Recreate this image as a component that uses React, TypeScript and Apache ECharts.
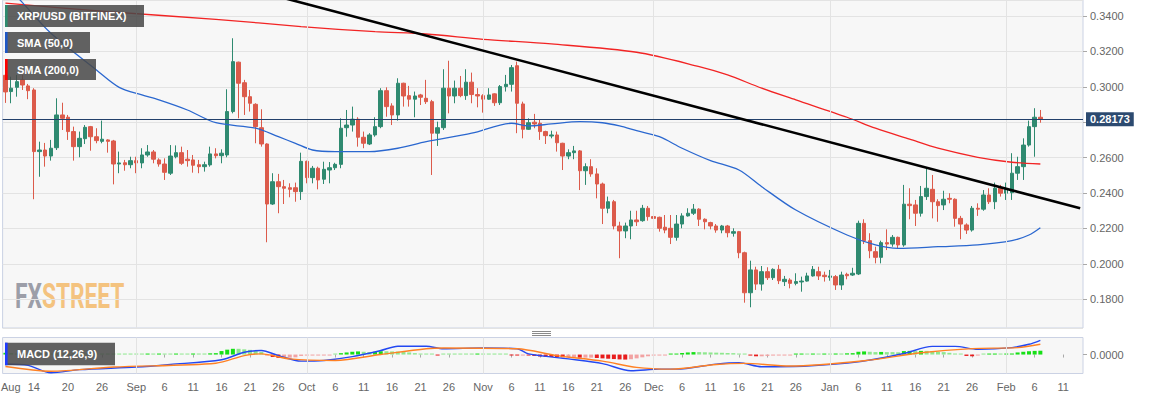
import React, { useEffect, useRef } from 'react';
import * as echarts from 'echarts';

// ---------- categories (one per day) ----------
const START_UTC = Date.UTC(2019, 7, 9);
const CATEGORY_COUNT = 190;
const MONTHS = ['Jan', 'Feb', 'Mar', 'Apr', 'May', 'Jun', 'Jul', 'Aug', 'Sep', 'Oct', 'Nov', 'Dec'];
const dates: string[] = Array.from({ length: CATEGORY_COUNT }, (_, i) =>
  new Date(START_UTC + i * 86400000).toISOString().slice(0, 10)
);

// ---------- x tick labels ----------
const tickDates = [
  '2019-08-14', '2019-08-20', '2019-08-26', '2019-09-01', '2019-09-06', '2019-09-11', '2019-09-16',
  '2019-09-21', '2019-09-26', '2019-10-01', '2019-10-06', '2019-10-11', '2019-10-16', '2019-10-21',
  '2019-10-26', '2019-11-01', '2019-11-06', '2019-11-11', '2019-11-16', '2019-11-21', '2019-11-26',
  '2019-12-01', '2019-12-06', '2019-12-11', '2019-12-16', '2019-12-21', '2019-12-26', '2020-01-01',
  '2020-01-06', '2020-01-11', '2020-01-16', '2020-01-21', '2020-01-26', '2020-02-01', '2020-02-06',
  '2020-02-11',
];
const monthLines = ['2019-09-01', '2019-10-01', '2019-11-01', '2019-12-01', '2020-01-01', '2020-02-01'];

// ---------- XRP/USD daily OHLC (Aug 9 2019 .. Feb 7 2020) ----------
const opens = [
  0.3065, 0.2973, 0.2997, 0.3039, 0.3005, 0.2982, 0.2634, 0.2643, 0.2609, 0.2656,
  0.2841, 0.2828, 0.2747, 0.2662, 0.2707, 0.2775, 0.2718, 0.2692, 0.2700, 0.2694,
  0.2564, 0.2571, 0.2560, 0.2583, 0.2570, 0.2615, 0.2632, 0.2587, 0.2564, 0.2512,
  0.2605, 0.2628, 0.2591, 0.2587, 0.2560, 0.2549, 0.2559, 0.2621, 0.2611, 0.2615,
  0.2860, 0.3139, 0.3023, 0.2944, 0.2901, 0.2769, 0.2677, 0.2338, 0.2464, 0.2436,
  0.2430, 0.2430, 0.2408, 0.2579, 0.2487, 0.2540, 0.2478, 0.2530, 0.2543, 0.2562,
  0.2769, 0.2784, 0.2817, 0.2715, 0.2677, 0.2728, 0.2775, 0.2978, 0.2892, 0.2841,
  0.3020, 0.2950, 0.2930, 0.2954, 0.2935, 0.2916, 0.2738, 0.2769, 0.2992, 0.2948,
  0.2992, 0.2950, 0.3026, 0.2956, 0.2950, 0.2930, 0.2960, 0.2910, 0.3001, 0.3014,
  0.3119, 0.2903, 0.2760, 0.2800, 0.2794, 0.2747, 0.2722, 0.2728, 0.2681, 0.2609,
  0.2628, 0.2638, 0.2526, 0.2549, 0.2508, 0.2451, 0.2314, 0.2351, 0.2214, 0.2186,
  0.2214, 0.2248, 0.2244, 0.2314, 0.2267, 0.2263, 0.2207, 0.2201, 0.2150, 0.2225,
  0.2271, 0.2286, 0.2309, 0.2252, 0.2233, 0.2214, 0.2191, 0.2214, 0.2173, 0.2182,
  0.2063, 0.1837, 0.1966, 0.1886, 0.1956, 0.1922, 0.1969, 0.1900, 0.1909, 0.1890,
  0.1898, 0.1903, 0.1932, 0.1956, 0.1936, 0.1924, 0.1928, 0.1881, 0.1941, 0.1937,
  0.1943, 0.2229, 0.2131, 0.2069, 0.2037, 0.2120, 0.2112, 0.2150, 0.2107, 0.2337,
  0.2333, 0.2286, 0.2380, 0.2421, 0.2351, 0.2333, 0.2370, 0.2365, 0.2257, 0.2220,
  0.2191, 0.2314, 0.2309, 0.2389, 0.2351, 0.2427, 0.2399, 0.2402, 0.2512, 0.2549,
  0.2671, 0.2775, 0.2828,
];
const highs = [
  0.3080, 0.3057, 0.3067, 0.3067, 0.3016, 0.2992, 0.2690, 0.2683, 0.2700, 0.2935,
  0.2910, 0.2841, 0.2775, 0.2747, 0.2784, 0.2779, 0.2766, 0.2809, 0.2704, 0.2700,
  0.2634, 0.2587, 0.2605, 0.2605, 0.2653, 0.2671, 0.2643, 0.2596, 0.2596, 0.2671,
  0.2669, 0.2662, 0.2643, 0.2615, 0.2587, 0.2577, 0.2662, 0.2653, 0.2647, 0.2986,
  0.3274, 0.3142, 0.3039, 0.2982, 0.2907, 0.2873, 0.2681, 0.2512, 0.2508, 0.2474,
  0.2455, 0.2459, 0.2628, 0.2583, 0.2553, 0.2549, 0.2577, 0.2575, 0.2571, 0.2822,
  0.2869, 0.2888, 0.2828, 0.2747, 0.2738, 0.2828, 0.2992, 0.2997, 0.2907, 0.3048,
  0.3023, 0.3005, 0.2973, 0.2960, 0.3039, 0.2926, 0.2803, 0.3099, 0.3147, 0.3035,
  0.3061, 0.3099, 0.3080, 0.2992, 0.2958, 0.2992, 0.2963, 0.3010, 0.3067, 0.3123,
  0.3142, 0.2916, 0.2822, 0.2847, 0.2817, 0.2752, 0.2752, 0.2747, 0.2684, 0.2647,
  0.2666, 0.2643, 0.2568, 0.2591, 0.2540, 0.2459, 0.2380, 0.2361, 0.2238, 0.2233,
  0.2300, 0.2300, 0.2333, 0.2327, 0.2271, 0.2267, 0.2276, 0.2276, 0.2276, 0.2286,
  0.2314, 0.2338, 0.2314, 0.2257, 0.2238, 0.2225, 0.2220, 0.2220, 0.2201, 0.2186,
  0.2069, 0.2018, 0.1984, 0.1988, 0.1981, 0.1975, 0.1994, 0.1932, 0.1919, 0.1947,
  0.1928, 0.1950, 0.1988, 0.1984, 0.1956, 0.1966, 0.1937, 0.1956, 0.1950, 0.1978,
  0.2244, 0.2252, 0.2173, 0.2097, 0.2131, 0.2195, 0.2163, 0.2154, 0.2446, 0.2427,
  0.2361, 0.2440, 0.2540, 0.2502, 0.2365, 0.2413, 0.2399, 0.2370, 0.2271, 0.2229,
  0.2327, 0.2342, 0.2417, 0.2427, 0.2459, 0.2446, 0.2459, 0.2625, 0.2605, 0.2709,
  0.2809, 0.2879, 0.2869,
];
const lows = [
  0.2909, 0.2907, 0.2944, 0.2982, 0.2930, 0.2365, 0.2492, 0.2549, 0.2583, 0.2643,
  0.2756, 0.2700, 0.2583, 0.2602, 0.2677, 0.2639, 0.2681, 0.2681, 0.2628, 0.2449,
  0.2512, 0.2526, 0.2540, 0.2512, 0.2540, 0.2605, 0.2568, 0.2549, 0.2474, 0.2502,
  0.2596, 0.2559, 0.2549, 0.2515, 0.2512, 0.2521, 0.2549, 0.2596, 0.2568, 0.2602,
  0.2850, 0.2822, 0.2841, 0.2860, 0.2681, 0.2662, 0.2122, 0.2333, 0.2286, 0.2338,
  0.2376, 0.2351, 0.2361, 0.2455, 0.2455, 0.2421, 0.2451, 0.2455, 0.2530, 0.2540,
  0.2718, 0.2747, 0.2662, 0.2653, 0.2671, 0.2718, 0.2766, 0.2831, 0.2784, 0.2809,
  0.2888, 0.2888, 0.2828, 0.2897, 0.2903, 0.2502, 0.2666, 0.2756, 0.2850, 0.2907,
  0.2941, 0.2926, 0.2907, 0.2884, 0.2854, 0.2926, 0.2892, 0.2897, 0.2973, 0.2973,
  0.2738, 0.2709, 0.2756, 0.2766, 0.2700, 0.2677, 0.2709, 0.2634, 0.2530, 0.2591,
  0.2591, 0.2417, 0.2446, 0.2492, 0.2370, 0.2225, 0.2286, 0.2195, 0.2032, 0.2145,
  0.2139, 0.2214, 0.2238, 0.2244, 0.2195, 0.2182, 0.2173, 0.2112, 0.2131, 0.2201,
  0.2267, 0.2276, 0.2214, 0.2195, 0.2195, 0.2176, 0.2173, 0.2150, 0.2154, 0.2032,
  0.1781, 0.1755, 0.1853, 0.1849, 0.1909, 0.1909, 0.1886, 0.1875, 0.1862, 0.1879,
  0.1843, 0.1900, 0.1928, 0.1909, 0.1900, 0.1905, 0.1853, 0.1853, 0.1913, 0.1932,
  0.1937, 0.2112, 0.2032, 0.2003, 0.2003, 0.2078, 0.2097, 0.2088, 0.2097, 0.2252,
  0.2214, 0.2267, 0.2361, 0.2257, 0.2238, 0.2304, 0.2342, 0.2210, 0.2139, 0.2169,
  0.2182, 0.2271, 0.2300, 0.2338, 0.2309, 0.2380, 0.2361, 0.2361, 0.2474, 0.2474,
  0.2662, 0.2605, 0.2797,
];
const closes = [
  0.2971, 0.2992, 0.3029, 0.3010, 0.2978, 0.2634, 0.2643, 0.2609, 0.2653, 0.2841,
  0.2822, 0.2747, 0.2662, 0.2709, 0.2771, 0.2718, 0.2696, 0.2704, 0.2692, 0.2564,
  0.2570, 0.2560, 0.2583, 0.2570, 0.2615, 0.2632, 0.2591, 0.2564, 0.2517, 0.2609,
  0.2628, 0.2568, 0.2583, 0.2557, 0.2549, 0.2560, 0.2621, 0.2611, 0.2625, 0.2860,
  0.3142, 0.3020, 0.2944, 0.2907, 0.2775, 0.2677, 0.2338, 0.2464, 0.2436, 0.2427,
  0.2421, 0.2408, 0.2579, 0.2487, 0.2540, 0.2474, 0.2534, 0.2543, 0.2562, 0.2766,
  0.2784, 0.2817, 0.2715, 0.2681, 0.2728, 0.2775, 0.2978, 0.2888, 0.2841, 0.3020,
  0.2948, 0.2930, 0.2948, 0.2941, 0.2916, 0.2738, 0.2769, 0.2992, 0.2948, 0.2992,
  0.2950, 0.3026, 0.2956, 0.2948, 0.2930, 0.2954, 0.2910, 0.3001, 0.3014, 0.3108,
  0.2907, 0.2760, 0.2797, 0.2790, 0.2747, 0.2724, 0.2728, 0.2684, 0.2609, 0.2628,
  0.2638, 0.2526, 0.2549, 0.2508, 0.2451, 0.2314, 0.2351, 0.2214, 0.2186, 0.2214,
  0.2248, 0.2238, 0.2314, 0.2267, 0.2257, 0.2201, 0.2191, 0.2150, 0.2225, 0.2271,
  0.2286, 0.2309, 0.2252, 0.2238, 0.2214, 0.2191, 0.2214, 0.2176, 0.2182, 0.2063,
  0.1837, 0.1966, 0.1886, 0.1956, 0.1922, 0.1969, 0.1905, 0.1913, 0.1890, 0.1900,
  0.1903, 0.1932, 0.1969, 0.1932, 0.1928, 0.1932, 0.1881, 0.1937, 0.1933, 0.1947,
  0.2229, 0.2131, 0.2074, 0.2037, 0.2120, 0.2112, 0.2150, 0.2107, 0.2337, 0.2329,
  0.2286, 0.2380, 0.2427, 0.2351, 0.2329, 0.2365, 0.2365, 0.2257, 0.2225, 0.2191,
  0.2314, 0.2309, 0.2389, 0.2351, 0.2427, 0.2399, 0.2421, 0.2512, 0.2549, 0.2671,
  0.2775, 0.2828, 0.28173,
];

// ---------- moving averages (day index, value) ----------
const sma50Days = [0, 3, 8, 16, 20, 24, 27, 32, 37, 44, 48, 51, 54, 58, 64, 69, 74, 82, 89, 92, 96, 101, 105, 108, 111, 115, 119, 124, 129, 133, 139, 148, 153, 157, 164, 171, 177, 180, 182];
const sma50Values = [0.3580, 0.3475, 0.3302, 0.3095, 0.2997, 0.2954, 0.2926, 0.2869, 0.2797, 0.2766, 0.2718, 0.2681, 0.2643, 0.2634, 0.2634, 0.2653, 0.2690, 0.2738, 0.2794, 0.2779, 0.2790, 0.2803, 0.2797, 0.2779, 0.2752, 0.2718, 0.2653, 0.2583, 0.2530, 0.2436, 0.2304, 0.2163, 0.2107, 0.2088, 0.2097, 0.2107, 0.2131, 0.2163, 0.2204];
const sma200Days = [0, 18, 37, 52, 65, 74, 84, 96, 111, 122, 127, 133, 139, 148, 153, 159, 164, 171, 177, 182];
const sma200Values = [0.3472, 0.3424, 0.3381, 0.3340, 0.3311, 0.3298, 0.3268, 0.3242, 0.3195, 0.3114, 0.3067, 0.2992, 0.2926, 0.2828, 0.2766, 0.2704, 0.2653, 0.2602, 0.2574, 0.2564];

// ---------- trend line ----------
const trendDays = [40, 189];
const trendValues = [0.3577, 0.2314];

// ---------- MACD (12,26,9) ----------
const macdDays = [0, 4, 8, 13, 23, 29, 38, 42, 45, 48, 52, 56, 61, 66, 69, 74, 77, 84, 90, 92, 99, 105, 110, 115, 118, 125, 129, 133, 141, 150, 158, 163, 167, 171, 177, 180, 182];
const macdValues = [-0.0054, -0.0062, -0.0105, -0.0087, -0.0072, -0.0057, -0.0030, 0.0013, 0.0023, -0.0006, -0.0038, -0.0034, -0.0012, 0.0023, 0.0048, 0.0048, 0.0033, 0.0038, 0.0033, 0.0004, -0.0025, -0.0052, -0.0093, -0.0084, -0.0084, -0.0055, -0.0047, -0.0070, -0.0066, -0.0042, 0.0006, 0.0047, 0.0047, 0.0030, 0.0040, 0.0059, 0.0082];
const signalDays = [0, 8, 19, 37, 42, 45, 50, 58, 66, 74, 77, 90, 97, 105, 111, 117, 125, 130, 138, 151, 161, 170, 178, 182];
const signalValues = [-0.0069, -0.0096, -0.0072, -0.0050, -0.0006, 0.0004, -0.0025, -0.0034, 0.0000, 0.0033, 0.0038, 0.0033, -0.0006, -0.0038, -0.0074, -0.0084, -0.0057, -0.0051, -0.0066, -0.0036, 0.0010, 0.0034, 0.0040, 0.0059];
const histValues = [
  0.0010, 0.0008, 0.0006,
  0.0002, 0.0002, 0.0002, 0.0002, 0.0002, 0.0002, 0.0002, 0.0002, 0.0002, 0.0002, 0.0002,
  0.0002, 0.0002, 0.0002, 0.0002, 0.0002, 0.0002, 0.0002, 0.0002, 0.0002, 0.0002, 0.0002,
  0.0003, 0.0003, 0.0004, 0.0004, 0.0004, 0.0005, 0.0005, 0.0005, 0.0006, 0.0006, 0.0006, 0.0007, 0.0008,
  0.0020, 0.0028, 0.0033, 0.0033, 0.0030, 0.0027, 0.0022, 0.0015,
  -0.0006, -0.0014, -0.0019, -0.0019, -0.0018, -0.0016, -0.0008, -0.0006, -0.0005, -0.0004, -0.0003, -0.0002,
  0.0002, 0.0008, 0.0012, 0.0016, 0.0018, 0.0016, 0.0014, 0.0016, 0.0019, 0.0019, 0.0018, 0.0017, 0.0014, 0.0012, 0.0008, 0.0005, 0.0003, 0.0001,
  -0.0003, 0.0001, 0.0001, 0.0001, 0.0001, 0.0001, 0.0001, 0.0002, 0.0001, 0.0001, 0.0001, 0.0001, 0.0001, -0.0002, -0.0003, -0.0003, -0.0004,
  -0.0008, -0.0011, -0.0013, -0.0014, -0.0015, -0.0016, -0.0016, -0.0016, -0.0018, -0.0018, -0.0018, -0.0020,
  -0.0022, -0.0024, -0.0026, -0.0028, -0.0029, -0.0027, -0.0022, -0.0016, -0.0010, -0.0006, -0.0003, -0.0001,
  0.0002, 0.0005, 0.0009, 0.0012, 0.0014, 0.0014, 0.0013, 0.0012, 0.0011, 0.0010, 0.0009, 0.0008, 0.0005, 0.0001,
  -0.0006, -0.0010, -0.0010, -0.0008, -0.0006, -0.0004, -0.0002, -0.0001,
  0.0002, 0.0003, 0.0003, 0.0004, 0.0004, 0.0005, 0.0005, 0.0006, 0.0006, 0.0007, 0.0008,
  0.0016, 0.0018, 0.0016, 0.0014, 0.0015, 0.0014, 0.0014, 0.0013, 0.0020, 0.0021, 0.0020, 0.0021, 0.0021, 0.0019, 0.0016, 0.0014, 0.0010, 0.0006,
  0.0002, -0.0008, -0.0010, -0.0006,
  0.0001, 0.0002, 0.0003, 0.0003, 0.0004, 0.0006,
  0.0012, 0.0016, 0.0019, 0.0021, 0.0022,
];

const lastPrice = 0.28173;

// ---------- styling ----------
const UP = '#2f8a70';
const DOWN = '#dc5b4b';
const GRID_LINE = '#e3e3e3';
const BORDER = '#cbd2e4';
const AXIS_TEXT = '#666666';
const FONT = '"Liberation Sans", Arial, sans-serif';

const tickSet = new Set(tickDates);
const pairs = (days: number[], vals: number[]) => days.map((d, k) => [dates[d], vals[k]]);
const fmtDate = (v: string) => {
  const [, m, d] = v.split('-');
  return d === '01' ? MONTHS[Number(m) - 1] : String(Number(d));
};

const histData = histValues.map((v, i) => {
  const prev = i > 0 ? histValues[i - 1] : 0;
  const growing = Math.abs(v) > Math.abs(prev);
  const color = v >= 0 ? (growing ? '#16e016' : '#8ee88e') : growing ? '#e81c1c' : '#f2a2a2';
  return { value: v, itemStyle: { color } };
});

const monthMarkLine = {
  silent: true,
  symbol: 'none',
  label: { show: false },
  lineStyle: { color: GRID_LINE, width: 1, type: 'solid' },
  data: monthLines.map((d) => ({ xAxis: d })),
};

const legendBox = (y: number, w: number, h: number, bar: string, text: string) => ({
  type: 'group',
  z: 100,
  children: [
    { type: 'rect', z: 100, shape: { x: 5, y, width: w, height: h }, style: { fill: 'rgba(72,72,72,0.86)' } },
    { type: 'rect', z: 101, shape: { x: 5, y, width: 2.6, height: h }, style: { fill: bar } },
    {
      type: 'text',
      z: 102,
      x: 17,
      y: y + h / 2,
      style: { text, fill: '#ffffff', font: `bold 11px ${FONT}`, verticalAlign: 'middle', align: 'left' },
    },
  ],
});

const option: any = {
  animation: false,
  backgroundColor: '#ffffff',
  textStyle: { fontFamily: FONT },
  grid: [
    { left: 2.6, right: 70, top: 0, height: 328, show: true, backgroundColor: '#f7f7f7', borderColor: BORDER, borderWidth: 1 },
    { left: 2.6, right: 70, top: 337.5, height: 36, show: true, backgroundColor: '#f7f7f7', borderColor: BORDER, borderWidth: 1 },
  ],
  xAxis: [
    {
      type: 'category',
      gridIndex: 0,
      data: dates,
      axisLine: { show: false },
      axisTick: { show: false },
      axisLabel: { show: false },
      splitLine: { show: false },
    },
    {
      type: 'category',
      gridIndex: 1,
      data: dates,
      axisLine: { show: false },
      axisTick: {
        show: true,
        alignWithLabel: true,
        length: 3,
        interval: (_i: number, v: string) => tickSet.has(v),
        lineStyle: { color: '#a9a9a9' },
      },
      axisLabel: {
        show: true,
        interval: (_i: number, v: string) => tickSet.has(v),
        formatter: fmtDate,
        color: AXIS_TEXT,
        fontSize: 11,
        margin: 8,
      },
      splitLine: { show: false },
    },
  ],
  yAxis: [
    {
      type: 'value',
      gridIndex: 0,
      position: 'right',
      min: 0.1638,
      max: 0.349,
      splitNumber: 9,
      axisLine: { show: false },
      axisTick: { show: true, length: 4, lineStyle: { color: '#a9a9a9' } },
      axisLabel: {
        color: AXIS_TEXT,
        fontSize: 11,
        margin: 7,
        showMinLabel: false,
        showMaxLabel: false,
        formatter: (v: number) => (Math.abs(v - lastPrice) < 0.004 ? '' : v.toFixed(4)),
      },
      splitLine: { show: true, lineStyle: { color: GRID_LINE, width: 1 } },
    },
    {
      type: 'value',
      gridIndex: 1,
      position: 'right',
      min: -0.0109,
      max: 0.0098,
      axisLine: { show: false },
      axisTick: { show: true, length: 4, customValues: [0], lineStyle: { color: '#a9a9a9' } },
      axisLabel: {
        customValues: [0],
        color: AXIS_TEXT,
        fontSize: 11,
        margin: 7,
        formatter: (v: number) => (Math.abs(v) < 1e-9 ? '0.0000' : ''),
      },
      splitLine: { show: false },
    },
  ],
  series: [
    {
      type: 'line',
      xAxisIndex: 0,
      yAxisIndex: 0,
      z: 1,
      data: [],
      markLine: monthMarkLine,
    },
    {
      type: 'candlestick',
      name: 'XRP/USD',
      xAxisIndex: 0,
      yAxisIndex: 0,
      z: 3,
      barWidth: 4,
      data: opens.map((o, i) => [o, closes[i], lows[i], highs[i]]),
      itemStyle: { color: UP, color0: DOWN, borderColor: UP, borderColor0: DOWN, borderWidth: 1 },
      markLine: {
        silent: true,
        symbol: 'none',
        precision: 5,
        data: [{ yAxis: lastPrice }],
        lineStyle: { color: '#22406b', width: 1, type: 'solid' },
        label: {
          show: true,
          position: 'end',
          distance: 3,
          formatter: (p: any) => Number(p.value).toFixed(5),
          color: '#ffffff',
          fontWeight: 'bold',
          fontSize: 11,
          backgroundColor: '#2c4a70',
          padding: [2, 4, 1, 4],
        },
      },
    },
    {
      type: 'line',
      name: 'SMA (200,0)',
      xAxisIndex: 0,
      yAxisIndex: 0,
      z: 4,
      data: pairs(sma200Days, sma200Values),
      smooth: 0.3,
      showSymbol: false,
      lineStyle: { color: '#f22424', width: 1.3 },
    },
    {
      type: 'line',
      name: 'SMA (50,0)',
      xAxisIndex: 0,
      yAxisIndex: 0,
      z: 4,
      data: pairs(sma50Days, sma50Values),
      smooth: 0.3,
      showSymbol: false,
      lineStyle: { color: '#2a67cf', width: 1.3 },
    },
    {
      type: 'line',
      name: 'Trend',
      xAxisIndex: 0,
      yAxisIndex: 0,
      z: 5,
      data: pairs(trendDays, trendValues),
      showSymbol: false,
      lineStyle: { color: '#000000', width: 2.6 },
    },
    {
      type: 'line',
      xAxisIndex: 1,
      yAxisIndex: 1,
      z: 1,
      data: [],
      markLine: monthMarkLine,
    },
    {
      type: 'bar',
      name: 'Histogram',
      xAxisIndex: 1,
      yAxisIndex: 1,
      z: 2,
      barWidth: 4,
      barMinHeight: 1,
      data: histData,
    },
    {
      type: 'line',
      name: 'MACD',
      xAxisIndex: 1,
      yAxisIndex: 1,
      z: 3,
      data: pairs(macdDays, macdValues),
      smooth: 0.3,
      showSymbol: false,
      lineStyle: { color: '#2348f2', width: 1.4 },
    },
    {
      type: 'line',
      name: 'Signal',
      xAxisIndex: 1,
      yAxisIndex: 1,
      z: 3,
      data: pairs(signalDays, signalValues),
      smooth: 0.3,
      showSymbol: false,
      lineStyle: { color: '#ff8124', width: 1.4 },
    },
  ],
  graphic: [
    {
      type: 'group',
      x: 15,
      y: 0,
      scaleX: 0.65,
      z: 0,
      children: [
        {
          type: 'text',
          x: 0,
          y: 296,
          z: 0,
          style: {
            text: '{a|FX}{b|STREET}',
            verticalAlign: 'middle',
            align: 'left',
            rich: {
              a: { fill: '#9c9ea8', fontSize: 35, fontWeight: 'bold', fontFamily: 'Roboto' },
              b: { fill: '#f4c37f', fontSize: 35, fontWeight: 'bold', fontFamily: 'Roboto' },
            },
          },
        },
      ],
    },
    legendBox(5, 139, 22, '#2e8b6f', 'XRP/USD (BITFINEX)'),
    legendBox(32, 85, 21, '#1f58c6', 'SMA (50,0)'),
    legendBox(59, 91, 21, '#ff0000', 'SMA (200,0)'),
    legendBox(342.7, 110, 22.5, '#1f3cff', 'MACD (12,26,9)'),
    { type: 'line', z: 50, shape: { x1: 532, y1: 331.5, x2: 551, y2: 331.5 }, style: { stroke: '#8a8a8a', lineWidth: 1 } },
    { type: 'line', z: 50, shape: { x1: 532, y1: 333.5, x2: 551, y2: 333.5 }, style: { stroke: '#8a8a8a', lineWidth: 1 } },
    { type: 'line', z: 50, shape: { x1: 532, y1: 335.5, x2: 551, y2: 335.5 }, style: { stroke: '#8a8a8a', lineWidth: 1 } },
    {
      type: 'text',
      z: 50,
      x: 1,
      y: 387,
      style: { text: 'Aug', fill: AXIS_TEXT, font: `11px ${FONT}`, verticalAlign: 'middle', align: 'left' },
    },
  ],
};

export default function App() {
  const ref = useRef<HTMLDivElement>(null);
  useEffect(() => {
    if (!ref.current) return;
    const chart = echarts.init(ref.current, null, { renderer: 'svg' });
    chart.setOption(option);
    return () => chart.dispose();
  }, []);
  return <div ref={ref} style={{ position: 'fixed', left: 0, top: 0, width: 1153, height: 399 }} />;
}
